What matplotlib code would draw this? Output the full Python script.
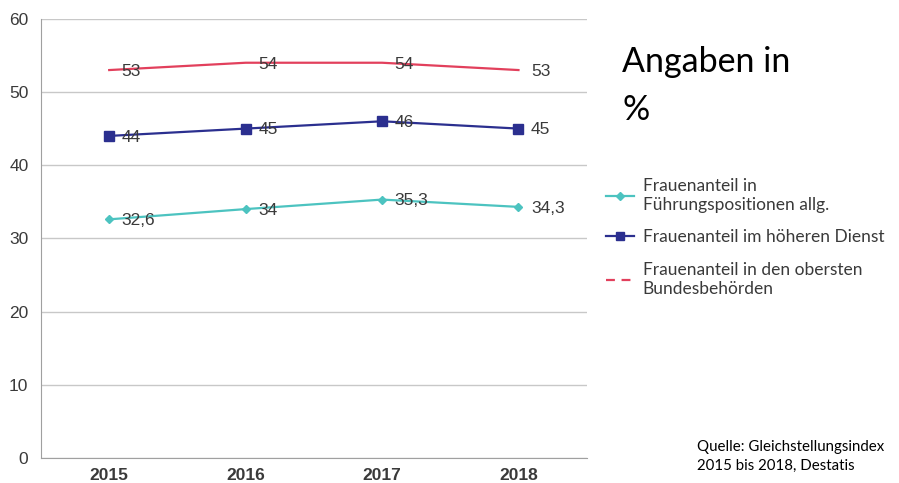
import matplotlib.pyplot as plt
from matplotlib.lines import Line2D

# ── data ──────────────────────────────────────────────────────────────────────
years = ["2015", "2016", "2017", "2018"]
fuehrung = [32.6, 34, 35.3, 34.3]
hoeherer_dienst = [44, 45, 46, 45]
oberste_behoerden = [53, 54, 54, 53]

labels_fuehrung = ["32,6", "34", "35,3", "34,3"]
labels_dienst = ["44", "45", "46", "45"]
labels_behoerden = ["53", "54", "54", "53"]

legend_labels = [
    "Frauenanteil in\nFührungspositionen allg.",
    "Frauenanteil im höheren Dienst",
    "Frauenanteil in den obersten\nBundesbehörden",
]

C_CYAN = "#4cc3c0"
C_NAVY = "#2b2f8f"
C_RED = "#e2405c"
TXT = "#3a3a3a"

# ── plot ──────────────────────────────────────────────────────────────────────
fig = plt.figure(figsize=(8.99, 4.83), dpi=100)
ax = fig.add_axes([0.0456, 0.052, 0.607, 0.909])

x = range(len(years))
ax.plot(x, fuehrung, color=C_CYAN, lw=1.6, marker="D", ms=4.5, zorder=3)
ax.plot(x, hoeherer_dienst, color=C_NAVY, lw=1.6, marker="s", ms=7.5, zorder=3)
ax.plot(x, oberste_behoerden, color=C_RED, lw=1.6, zorder=3)

for vals, lbls in [(fuehrung, labels_fuehrung),
                   (hoeherer_dienst, labels_dienst),
                   (oberste_behoerden, labels_behoerden)]:
    for xi, v, s in zip(x, vals, lbls):
        ax.annotate(s, (xi, v), xytext=(9, -1), textcoords="offset points",
                    ha="left", va="center", fontsize=12.5, color=TXT,
                    family="Liberation Sans", zorder=4)

ax.set_xlim(-0.5, 3.5)
ax.set_ylim(0, 60)
ax.set_yticks(range(0, 61, 10))
ax.set_xticks(list(x))
ax.set_xticklabels(years, fontweight="bold")
ax.tick_params(length=0, labelsize=12.5, labelcolor=TXT)
ax.tick_params(axis="y", pad=9)
ax.tick_params(axis="x", pad=7)
for lbl in ax.get_xticklabels() + ax.get_yticklabels():
    lbl.set_family("Liberation Sans")
ax.grid(axis="y", color="#c8c8c8", lw=1.0)
ax.set_axisbelow(True)
for side in ["top", "right"]:
    ax.spines[side].set_visible(False)
ax.spines["left"].set_color("#a0a0a0")
ax.spines["bottom"].set_color("#a0a0a0")

# ── side text ─────────────────────────────────────────────────────────────────
fig.text(0.692, 0.905, "Angaben in\n%", fontsize=24.5, family="Lato",
         color="black", va="top", ha="left", linespacing=1.62)

handles = [
    Line2D([], [], color=C_CYAN, lw=1.6, marker="D", ms=4),
    Line2D([], [], color=C_NAVY, lw=1.6, marker="s", ms=5.5),
    Line2D([], [], color=C_RED, lw=1.6, ls=(0, (4, 3))),
]
fig.legend(handles, legend_labels, loc="upper left",
           bbox_to_anchor=(0.657, 0.663), frameon=False,
           prop={"family": "Lato", "size": 12.5}, handlelength=1.6,
           handletextpad=0.5, labelspacing=0.95, labelcolor=TXT)

fig.text(0.775, 0.055, "Quelle: Gleichstellungsindex\n2015 bis 2018, Destatis",
         fontsize=10.8, family="Lato", color="black", va="center", ha="left",
         linespacing=1.45)

plt.savefig("out.png", dpi=100)
